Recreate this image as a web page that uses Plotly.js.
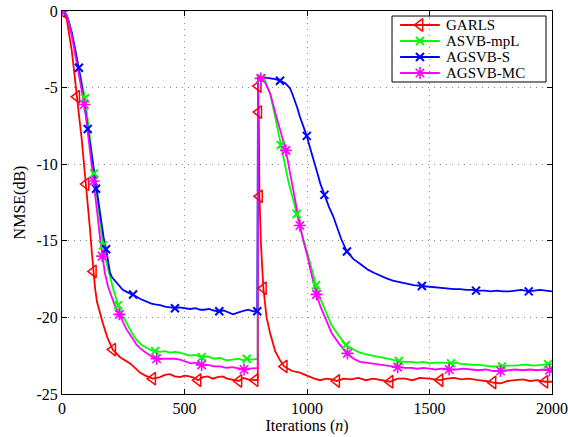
<!DOCTYPE html>
<html>
<head>
<meta charset="utf-8">
<script src="https://cdn.plot.ly/plotly-3.0.1.min.js"></script>
<style>html,body{margin:0;padding:0;background:#fff;}#chart{width:568px;height:437px;}</style>
</head>
<body>
<div id="chart"></div>
<script>
// ---- data ----
const seriesNames = ["GARLS", "ASVB-mpL", "AGSVB-S", "AGSVB-MC"];

const garlsN = [0,10,20,30,40,50,60,70,80,90,98,106,114,121,128,135,143,155,167,185,207,237,258,278,298,318,340,370,400,420,441,460,482,500,520,540,555,575,595,615,635,655,675,695,722,740,760,788,799,800,801,803,806,812,822,835,849,870,890,907,940,971,1000,1030,1053,1080,1100,1121,1150,1180,1210,1240,1270,1300,1339,1370,1400,1430,1460,1500,1543,1570,1600,1630,1660,1700,1730,1759,1790,1820,1850,1880,1910,1940,1971,2000];
const garlsDB = [0,-0.1,-0.6,-1.5,-2.6,-4.0,-5.6,-6.9,-8.3,-9.9,-11.3,-12.8,-14.2,-15.6,-17.0,-18.1,-19.0,-19.8,-20.4,-21.3,-22.1,-22.6,-22.8,-23.0,-23.3,-23.6,-23.8,-24.0,-23.9,-23.75,-23.7,-23.85,-23.9,-23.8,-23.85,-23.95,-24.1,-23.9,-23.85,-24.0,-23.9,-23.85,-24.0,-24.05,-24.15,-23.95,-24.05,-24.1,-24.1,-4.4,-4.9,-6.6,-12.1,-15.2,-18.1,-20.0,-21.0,-22.2,-22.8,-23.2,-23.5,-23.6,-23.8,-24.0,-24.1,-24.0,-24.05,-24.15,-24.0,-24.05,-23.95,-24.1,-24.0,-24.1,-24.2,-24.0,-24.0,-24.1,-23.95,-24.0,-24.1,-24.0,-23.95,-24.05,-24.0,-24.1,-24.15,-24.25,-24.3,-24.15,-24.1,-24.05,-24.15,-24.1,-24.2,-24.2];
const garlsMarkN = [0,60,98,128,207,370,555,722,788,801,803,806,822,907,1121,1339,1543,1759,1971];

const asvbN = [0,10,20,30,40,50,60,70,80,94,102,110,120,131,140,150,158,167,178,190,200,210,220,229,245,265,285,306,325,347,365,380,400,420,441,460,482,500,520,545,570,595,620,645,672,695,720,740,754,775,799,800,815,829,849,870,893,910,925,940,958,980,1000,1020,1037,1055,1070,1100,1130,1159,1190,1216,1240,1260,1280,1300,1325,1350,1375,1400,1425,1450,1475,1500,1525,1550,1588,1610,1630,1650,1675,1700,1725,1750,1775,1796,1820,1850,1875,1900,1925,1950,1984,2000];
const asvbDB = [0,-0.1,-0.3,-0.8,-1.5,-2.3,-3.2,-4.0,-4.7,-5.7,-6.7,-7.8,-9.1,-10.6,-11.9,-13.2,-14.3,-15.3,-16.2,-17.0,-17.7,-18.2,-18.7,-19.2,-19.8,-20.4,-21.0,-21.5,-21.8,-22.0,-22.15,-22.2,-22.25,-22.2,-22.3,-22.25,-22.3,-22.4,-22.5,-22.45,-22.6,-22.55,-22.7,-22.65,-22.8,-22.75,-22.7,-22.8,-22.7,-22.75,-22.7,-4.35,-4.4,-4.55,-5.35,-6.9,-8.75,-10.1,-11.2,-12.1,-13.25,-14.6,-15.7,-16.9,-17.9,-18.8,-19.4,-20.5,-21.2,-21.8,-22.1,-22.3,-22.4,-22.5,-22.55,-22.6,-22.7,-22.8,-22.85,-22.9,-22.9,-22.95,-22.9,-23.0,-22.95,-22.95,-23.0,-22.95,-23.05,-23.05,-23.1,-23.1,-23.15,-23.2,-23.2,-23.2,-23.15,-23.15,-23.1,-23.1,-23.15,-23.1,-23.05,-23.05];
const asvbMarkN = [0,94,131,167,229,380,570,754,815,893,958,1037,1159,1375,1588,1796,1984];

const agsN = [0,10,20,30,40,55,69,78,87,96,105,114,122,130,139,150,160,170,180,188,196,205,215,226,237,248,260,275,290,305,320,335,347,365,380,400,420,441,461,480,500,522,545,565,580,600,620,642,660,680,698,715,730,745,760,780,797,800,830,850,870,890,910,920,931,940,950,960,971,985,999,1010,1020,1039,1055,1071,1090,1107,1125,1140,1163,1190,1216,1250,1275,1300,1325,1350,1375,1400,1435,1469,1500,1525,1550,1575,1600,1625,1650,1675,1690,1725,1750,1775,1800,1825,1850,1875,1905,1925,1950,1975,2000];
const agsDB = [0,-0.05,-0.3,-0.8,-1.4,-2.6,-3.7,-4.6,-5.6,-6.6,-7.7,-8.7,-9.7,-10.6,-11.6,-12.8,-13.9,-14.8,-15.55,-16.4,-17.1,-17.4,-17.6,-17.8,-18.0,-18.2,-18.3,-18.4,-18.5,-18.65,-18.8,-18.9,-19.0,-19.1,-19.15,-19.2,-19.3,-19.35,-19.4,-19.35,-19.4,-19.45,-19.4,-19.5,-19.5,-19.45,-19.55,-19.6,-19.55,-19.7,-19.8,-19.7,-19.6,-19.55,-19.5,-19.6,-19.6,-4.35,-4.35,-4.4,-4.45,-4.55,-4.7,-4.85,-5.05,-5.4,-5.8,-6.3,-6.9,-7.5,-8.15,-8.8,-9.3,-10.4,-11.3,-12.0,-12.8,-13.4,-14.2,-14.9,-15.7,-16.2,-16.5,-16.9,-17.1,-17.3,-17.45,-17.6,-17.7,-17.8,-17.9,-17.95,-18.0,-18.05,-18.1,-18.1,-18.15,-18.15,-18.2,-18.2,-18.25,-18.25,-18.3,-18.25,-18.3,-18.3,-18.25,-18.2,-18.3,-18.25,-18.2,-18.25,-18.3];
const agsMarkN = [0,69,105,139,180,290,461,642,797,890,999,1071,1163,1469,1690,1905];

const agmcN = [0,10,20,30,40,50,60,70,80,91,100,110,120,129,138,147,155,164,175,188,200,215,234,250,264,285,305,325,346,365,386,410,441,460,482,505,525,545,570,595,620,645,670,695,720,743,765,785,799,800,811,830,850,870,890,914,930,940,955,971,985,1000,1020,1039,1055,1070,1085,1100,1130,1165,1190,1216,1240,1260,1280,1300,1325,1350,1370,1400,1425,1450,1475,1500,1525,1550,1580,1610,1640,1670,1700,1730,1760,1790,1820,1850,1880,1910,1940,1970,1990,2000];
const agmcDB = [0,-0.1,-0.3,-0.9,-1.6,-2.5,-3.4,-4.3,-5.1,-6.1,-7.2,-8.5,-9.8,-11.1,-12.3,-13.6,-14.8,-16.0,-17.1,-18.0,-18.6,-19.2,-19.8,-20.3,-20.8,-21.3,-21.8,-22.1,-22.35,-22.55,-22.7,-22.7,-22.7,-22.7,-22.75,-22.9,-23.0,-22.95,-23.1,-23.1,-23.2,-23.2,-23.3,-23.25,-23.35,-23.4,-23.35,-23.3,-23.3,-4.35,-4.4,-4.7,-5.4,-6.6,-7.8,-9.1,-10.5,-11.4,-12.7,-14.0,-15.0,-15.9,-17.3,-18.5,-19.3,-19.9,-20.5,-21.0,-21.7,-22.35,-22.7,-22.9,-22.95,-23.0,-23.05,-23.1,-23.15,-23.2,-23.25,-23.3,-23.3,-23.35,-23.3,-23.35,-23.4,-23.35,-23.4,-23.4,-23.35,-23.4,-23.45,-23.4,-23.5,-23.5,-23.45,-23.4,-23.45,-23.4,-23.45,-23.4,-23.45,-23.45];
const agmcMarkN = [0,91,129,164,234,386,570,743,811,914,971,1039,1165,1370,1580,1790,1990];

const xTickVals = [0,500,1000,1500,2000];
const xTickText = ["0","500","1000","1500","2000"];
const yTickVals = [0,-5,-10,-15,-20,-25];
const yTickText = ["0","-5","-10","-15","-20","-25"];

// ---- styles ----
const FONT = "Liberation Serif";
const styles = [
  {color: "#ff0000", symbol: "triangle-left-open", size: 11, mlw: 1.5},
  {color: "#00ff00", symbol: "x-thin-open", size: 8, mlw: 2},
  {color: "#0000ff", symbol: "x-thin-open", size: 8, mlw: 2},
  {color: "#ff00ff", symbol: "asterisk-open", size: 10, mlw: 1.6}
];
const allN = [garlsN, asvbN, agsN, agmcN];
const allDB = [garlsDB, asvbDB, agsDB, agmcDB];
const allMark = [garlsMarkN, asvbMarkN, agsMarkN, agmcMarkN];

// legend box geometry (fractions of the plot area, drawn on an overlay axis 0..1)
const LG = {x0: 0.6735, x1: 0.9878, y0: 0.8146, y1: 0.9869,
  lineX0: 0.690, lineX1: 0.771, textX: 0.781, rows: [0.9634, 0.9217, 0.8799, 0.8381]};

const traces = [];
const annotations = [];
for (let i = 0; i < 4; i++) {
  const s = styles[i];
  traces.push({x: allN[i], y: allDB[i], mode: "lines", type: "scatter", name: seriesNames[i],
    line: {color: s.color, width: 1.8}, showlegend: false, hoverinfo: "skip"});
}
for (let i = 0; i < 4; i++) {
  const s = styles[i];
  const mx = [], my = [];
  allMark[i].forEach(n => { const k = allN[i].indexOf(n); if (k >= 0) { mx.push(n); my.push(allDB[i][k]); } });
  traces.push({x: mx, y: my, mode: "markers", type: "scatter", showlegend: false, name: seriesNames[i],
    marker: {symbol: s.symbol, size: s.size, color: s.color, line: {color: s.color, width: s.mlw}}});
}
// legend samples
for (let i = 0; i < 4; i++) {
  const s = styles[i];
  const r = LG.rows[i];
  traces.push({x: [LG.lineX0, LG.lineX1], y: [r, r], xaxis: "x2", yaxis: "y2", mode: "lines",
    type: "scatter", showlegend: false, hoverinfo: "skip", line: {color: s.color, width: 1.8}});
  traces.push({x: [(LG.lineX0 + LG.lineX1) / 2], y: [r], xaxis: "x2", yaxis: "y2", mode: "markers",
    type: "scatter", showlegend: false, hoverinfo: "skip",
    marker: {symbol: s.symbol, size: s.size, color: s.color, line: {color: s.color, width: s.mlw}}});
  annotations.push({xref: "x2", yref: "y2", x: LG.textX, y: r, text: seriesNames[i], showarrow: false,
    xanchor: "left", yanchor: "middle", borderpad: 0, font: {family: FONT, size: 15, color: "#000"}});
}

const axisCommon = {
  showline: true, linecolor: "#000", linewidth: 1, mirror: "ticks",
  ticks: "inside", ticklen: 5, tickcolor: "#000", tickwidth: 1,
  showgrid: true, gridcolor: "#8a8a8a", griddash: "1px,5px", gridwidth: 1,
  zeroline: false, tickfont: {family: FONT, size: 16, color: "#000"}
};

const layout = {
  width: 568, height: 437,
  margin: {l: 62, r: 16, t: 11, b: 43},
  paper_bgcolor: "#fff", plot_bgcolor: "#fff",
  font: {family: FONT, color: "#000"},
  xaxis: Object.assign({}, axisCommon, {range: [0, 2000], tickvals: xTickVals, ticktext: xTickText,
    title: {text: "Iterations (<i>n</i>)", font: {family: FONT, size: 16, color: "#000"}, standoff: 3}}),
  yaxis: Object.assign({}, axisCommon, {range: [-25, 0], tickvals: yTickVals, ticktext: yTickText,
    title: {text: "NMSE(dB)", font: {family: FONT, size: 16, color: "#000"}, standoff: 6}}),
  xaxis2: {overlaying: "x", range: [0, 1], visible: false, fixedrange: true},
  yaxis2: {overlaying: "y", range: [0, 1], visible: false, fixedrange: true},
  shapes: [{type: "rect", xref: "x", yref: "y", x0: LG.x0 * 2000, x1: LG.x1 * 2000,
    y0: -25 + LG.y0 * 25, y1: -25 + LG.y1 * 25,
    line: {color: "#000", width: 1}, fillcolor: "#fff", layer: "below"}],
  annotations: annotations,
  showlegend: false
};

Plotly.newPlot("chart", traces, layout, {displayModeBar: false, staticPlot: true});
</script>
</body>
</html>
